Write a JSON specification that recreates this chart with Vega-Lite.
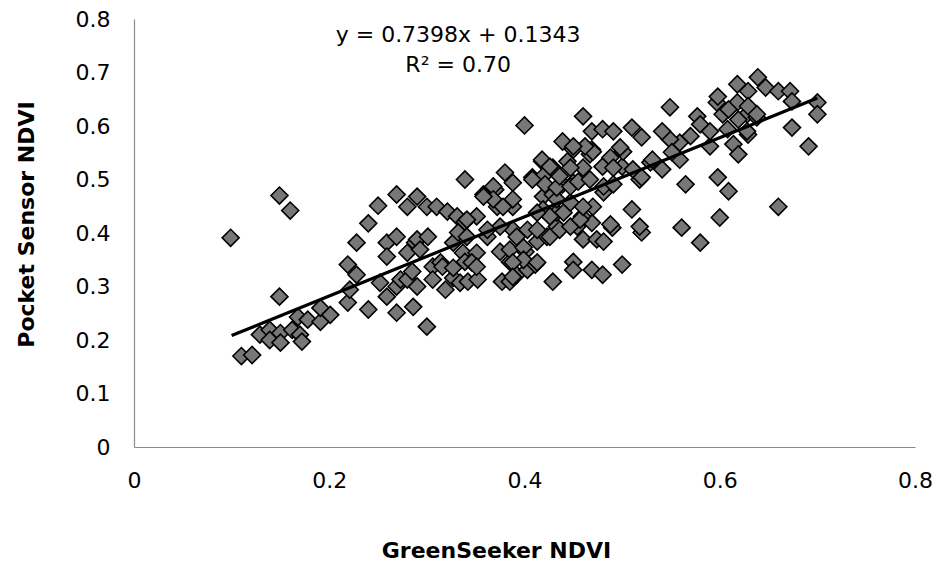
{
  "$schema": "https://vega.github.io/schema/vega-lite/v6.json",
  "width": 781,
  "height": 428,
  "autosize": {"type": "none"},
  "padding": {"left": 134, "top": 19, "right": 25, "bottom": 118},
  "background": "white",
  "config": {
    "view": {"stroke": null},
    "font": "DejaVu Sans",
    "axis": {
      "grid": false,
      "ticks": false,
      "tickSize": 0,
      "domainColor": "#8c8c8c",
      "domainWidth": 1.2,
      "labelFont": "DejaVu Sans",
      "labelFontSize": 22,
      "labelColor": "#000000",
      "titleFont": "DejaVu Sans",
      "titleFontSize": 22,
      "titleFontWeight": "bold",
      "titleColor": "#000000"
    }
  },
  "datasets": {
    "points": [
      {"gs":0.099,"ps":0.391},{"gs":0.149,"ps":0.470},{"gs":0.160,"ps":0.442},{"gs":0.149,"ps":0.281},
      {"gs":0.110,"ps":0.170},{"gs":0.121,"ps":0.172},{"gs":0.129,"ps":0.210},{"gs":0.139,"ps":0.219},
      {"gs":0.139,"ps":0.200},{"gs":0.150,"ps":0.213},{"gs":0.150,"ps":0.195},{"gs":0.162,"ps":0.219},
      {"gs":0.170,"ps":0.210},{"gs":0.172,"ps":0.197},{"gs":0.168,"ps":0.243},{"gs":0.178,"ps":0.238},
      {"gs":0.191,"ps":0.234},{"gs":0.191,"ps":0.260},{"gs":0.201,"ps":0.247},{"gs":0.219,"ps":0.341},
      {"gs":0.228,"ps":0.322},{"gs":0.219,"ps":0.270},{"gs":0.240,"ps":0.257},{"gs":0.228,"ps":0.382},
      {"gs":0.240,"ps":0.418},{"gs":0.221,"ps":0.294},{"gs":0.259,"ps":0.382},{"gs":0.269,"ps":0.393},
      {"gs":0.259,"ps":0.356},{"gs":0.280,"ps":0.363},{"gs":0.288,"ps":0.382},{"gs":0.259,"ps":0.281},
      {"gs":0.269,"ps":0.300},{"gs":0.273,"ps":0.313},{"gs":0.269,"ps":0.251},{"gs":0.286,"ps":0.262},
      {"gs":0.280,"ps":0.313},{"gs":0.290,"ps":0.300},{"gs":0.252,"ps":0.307},{"gs":0.250,"ps":0.451},
      {"gs":0.269,"ps":0.472},{"gs":0.290,"ps":0.468},{"gs":0.280,"ps":0.449},{"gs":0.300,"ps":0.449},
      {"gs":0.310,"ps":0.449},{"gs":0.321,"ps":0.440},{"gs":0.339,"ps":0.500},{"gs":0.331,"ps":0.431},
      {"gs":0.339,"ps":0.421},{"gs":0.290,"ps":0.388},{"gs":0.301,"ps":0.393},{"gs":0.293,"ps":0.369},
      {"gs":0.306,"ps":0.337},{"gs":0.314,"ps":0.345},{"gs":0.327,"ps":0.382},{"gs":0.337,"ps":0.363},
      {"gs":0.332,"ps":0.401},{"gs":0.341,"ps":0.393},{"gs":0.300,"ps":0.225},{"gs":0.285,"ps":0.328},
      {"gs":0.316,"ps":0.337},{"gs":0.306,"ps":0.313},{"gs":0.319,"ps":0.294},{"gs":0.327,"ps":0.316},
      {"gs":0.334,"ps":0.307},{"gs":0.342,"ps":0.309},{"gs":0.352,"ps":0.313},{"gs":0.327,"ps":0.335},
      {"gs":0.339,"ps":0.346},{"gs":0.351,"ps":0.363},{"gs":0.346,"ps":0.345},{"gs":0.362,"ps":0.393},
      {"gs":0.375,"ps":0.365},{"gs":0.385,"ps":0.346},{"gs":0.377,"ps":0.309},{"gs":0.385,"ps":0.309},
      {"gs":0.392,"ps":0.322},{"gs":0.401,"ps":0.365},{"gs":0.403,"ps":0.331},{"gs":0.411,"ps":0.341},
      {"gs":0.413,"ps":0.384},{"gs":0.423,"ps":0.393},{"gs":0.433,"ps":0.412},{"gs":0.429,"ps":0.309},
      {"gs":0.450,"ps":0.346},{"gs":0.450,"ps":0.331},{"gs":0.469,"ps":0.331},{"gs":0.480,"ps":0.322},
      {"gs":0.460,"ps":0.388},{"gs":0.474,"ps":0.388},{"gs":0.454,"ps":0.412},{"gs":0.469,"ps":0.419},
      {"gs":0.481,"ps":0.384},{"gs":0.388,"ps":0.406},{"gs":0.375,"ps":0.412},{"gs":0.351,"ps":0.431},
      {"gs":0.358,"ps":0.472},{"gs":0.370,"ps":0.481},{"gs":0.380,"ps":0.513},{"gs":0.388,"ps":0.494},
      {"gs":0.372,"ps":0.449},{"gs":0.388,"ps":0.449},{"gs":0.408,"ps":0.504},{"gs":0.418,"ps":0.534},
      {"gs":0.419,"ps":0.506},{"gs":0.429,"ps":0.522},{"gs":0.444,"ps":0.534},{"gs":0.439,"ps":0.491},
      {"gs":0.450,"ps":0.494},{"gs":0.460,"ps":0.522},{"gs":0.480,"ps":0.524},{"gs":0.419,"ps":0.468},
      {"gs":0.429,"ps":0.472},{"gs":0.433,"ps":0.438},{"gs":0.419,"ps":0.444},{"gs":0.459,"ps":0.431},
      {"gs":0.470,"ps":0.449},{"gs":0.481,"ps":0.476},{"gs":0.400,"ps":0.601},{"gs":0.460,"ps":0.618},
      {"gs":0.469,"ps":0.590},{"gs":0.480,"ps":0.594},{"gs":0.439,"ps":0.571},{"gs":0.450,"ps":0.556},
      {"gs":0.469,"ps":0.556},{"gs":0.341,"ps":0.425},{"gs":0.362,"ps":0.406},{"gs":0.351,"ps":0.337},
      {"gs":0.368,"ps":0.487},{"gs":0.368,"ps":0.463},{"gs":0.358,"ps":0.468},{"gs":0.388,"ps":0.463},
      {"gs":0.378,"ps":0.449},{"gs":0.385,"ps":0.369},{"gs":0.399,"ps":0.373},{"gs":0.399,"ps":0.350},
      {"gs":0.413,"ps":0.345},{"gs":0.388,"ps":0.345},{"gs":0.403,"ps":0.406},{"gs":0.392,"ps":0.393},
      {"gs":0.413,"ps":0.406},{"gs":0.426,"ps":0.393},{"gs":0.436,"ps":0.406},{"gs":0.447,"ps":0.412},
      {"gs":0.457,"ps":0.425},{"gs":0.440,"ps":0.438},{"gs":0.426,"ps":0.431},{"gs":0.413,"ps":0.438},
      {"gs":0.433,"ps":0.463},{"gs":0.447,"ps":0.457},{"gs":0.460,"ps":0.449},{"gs":0.421,"ps":0.491},
      {"gs":0.433,"ps":0.485},{"gs":0.447,"ps":0.487},{"gs":0.455,"ps":0.496},{"gs":0.467,"ps":0.500},
      {"gs":0.481,"ps":0.487},{"gs":0.491,"ps":0.491},{"gs":0.408,"ps":0.500},{"gs":0.418,"ps":0.537},
      {"gs":0.426,"ps":0.524},{"gs":0.436,"ps":0.506},{"gs":0.447,"ps":0.522},{"gs":0.467,"ps":0.547},
      {"gs":0.488,"ps":0.541},{"gs":0.500,"ps":0.524},{"gs":0.501,"ps":0.552},{"gs":0.518,"ps":0.500},
      {"gs":0.529,"ps":0.532},{"gs":0.541,"ps":0.519},{"gs":0.559,"ps":0.537},{"gs":0.559,"ps":0.569},
      {"gs":0.570,"ps":0.581},{"gs":0.549,"ps":0.575},{"gs":0.541,"ps":0.590},{"gs":0.520,"ps":0.579},
      {"gs":0.510,"ps":0.597},{"gs":0.491,"ps":0.590},{"gs":0.470,"ps":0.552},{"gs":0.462,"ps":0.562},
      {"gs":0.450,"ps":0.562},{"gs":0.549,"ps":0.635},{"gs":0.577,"ps":0.618},{"gs":0.580,"ps":0.603},
      {"gs":0.597,"ps":0.644},{"gs":0.603,"ps":0.622},{"gs":0.618,"ps":0.644},{"gs":0.628,"ps":0.622},
      {"gs":0.638,"ps":0.616},{"gs":0.614,"ps":0.566},{"gs":0.619,"ps":0.547},{"gs":0.590,"ps":0.562},
      {"gs":0.629,"ps":0.584},{"gs":0.639,"ps":0.691},{"gs":0.618,"ps":0.678},{"gs":0.629,"ps":0.665},
      {"gs":0.647,"ps":0.672},{"gs":0.660,"ps":0.665},{"gs":0.672,"ps":0.665},{"gs":0.674,"ps":0.646},
      {"gs":0.598,"ps":0.655},{"gs":0.700,"ps":0.644},{"gs":0.700,"ps":0.622},{"gs":0.674,"ps":0.597},
      {"gs":0.691,"ps":0.562},{"gs":0.660,"ps":0.449},{"gs":0.600,"ps":0.429},{"gs":0.609,"ps":0.478},
      {"gs":0.598,"ps":0.504},{"gs":0.580,"ps":0.382},{"gs":0.561,"ps":0.410},{"gs":0.565,"ps":0.491},
      {"gs":0.510,"ps":0.444},{"gs":0.520,"ps":0.401},{"gs":0.490,"ps":0.410},{"gs":0.500,"ps":0.341},
      {"gs":0.388,"ps":0.318},{"gs":0.488,"ps":0.416},{"gs":0.518,"ps":0.412},{"gs":0.609,"ps":0.631},
      {"gs":0.629,"ps":0.637},{"gs":0.619,"ps":0.612},{"gs":0.590,"ps":0.590},{"gs":0.608,"ps":0.594},
      {"gs":0.628,"ps":0.590},{"gs":0.498,"ps":0.560},{"gs":0.491,"ps":0.522},{"gs":0.511,"ps":0.519},
      {"gs":0.531,"ps":0.537},{"gs":0.551,"ps":0.551},{"gs":0.520,"ps":0.504},{"gs":0.638,"ps":0.622}
    ],
    "trend": [
      {"gs": 0.1, "ps": 0.2083},
      {"gs": 0.7, "ps": 0.6522}
    ]
  },
  "layer": [
    {
      "data": {"name": "points"},
      "mark": {"type": "point", "shape": "diamond", "filled": true, "size": 290, "fill": "#777777", "stroke": "#000000", "strokeWidth": 1.6, "opacity": 1},
      "encoding": {
        "x": {
          "field": "gs", "type": "quantitative",
          "scale": {"domain": [0, 0.8], "nice": false, "zero": false},
          "axis": {
            "title": "GreenSeeker NDVI",
            "values": [0, 0.2, 0.4, 0.6, 0.8],
            "format": "~g",
            "labelPadding": 40,
            "labelBaseline": "alphabetic",
            "labelFlush": false,
            "titleX": 362,
            "titleY": 110,
            "titleAnchor": null,
            "titleAlign": "center",
            "titleBaseline": "alphabetic"
          }
        },
        "y": {
          "field": "ps", "type": "quantitative",
          "scale": {"domain": [0, 0.8], "nice": false, "zero": false},
          "axis": {
            "title": "Pocket Sensor NDVI",
            "values": [0, 0.1, 0.2, 0.3, 0.4, 0.5, 0.6, 0.7, 0.8],
            "format": "~g",
            "labelPadding": 24,
            "labelFlush": false,
            "labelBaseline": "middle",
            "titleX": -101,
            "titleY": 205,
            "titleAngle": -90,
            "titleAlign": "center",
            "titleBaseline": "alphabetic"
          }
        }
      }
    },
    {
      "data": {"name": "trend"},
      "mark": {"type": "line", "color": "#000000", "strokeWidth": 3.2},
      "encoding": {
        "x": {"field": "gs", "type": "quantitative"},
        "y": {"field": "ps", "type": "quantitative"}
      }
    },
    {
      "data": {"values": [{}]},
      "mark": {"type": "text", "text": ["y = 0.7398x + 0.1343", "R² = 0.70"], "font": "DejaVu Sans", "fontSize": 22, "lineHeight": 30, "align": "center", "baseline": "alphabetic", "color": "#000000"},
      "encoding": {
        "x": {"datum": 0.332, "type": "quantitative"},
        "y": {"datum": 0.757, "type": "quantitative"}
      }
    }
  ]
}
